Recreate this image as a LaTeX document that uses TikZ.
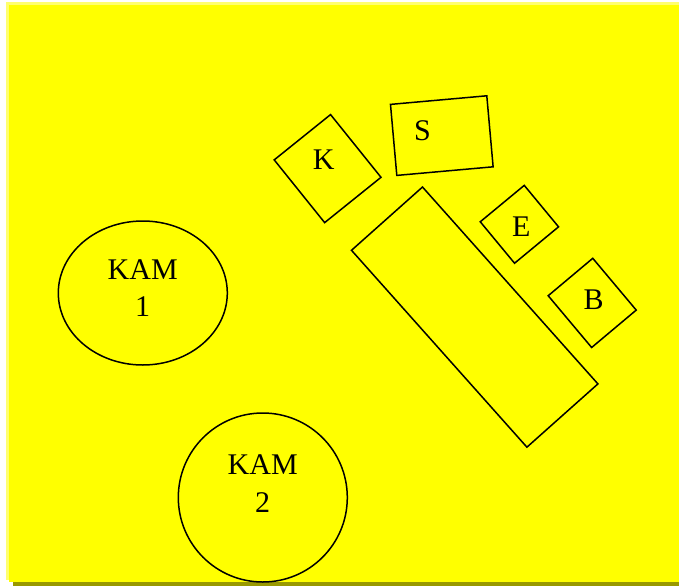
\documentclass[tikz,border=0pt]{standalone}
\usepackage{fontspec}
\setmainfont{Liberation Serif}
\usetikzlibrary{shapes.geometric}
\definecolor{floor}{RGB}{255,255,0}
\definecolor{floorlight}{RGB}{255,255,110}
\definecolor{floorshade}{RGB}{153,153,0}
\tikzset{
  furniture/.style={draw, line width=1.5pt, rectangle, inner sep=0pt, outer sep=0pt},
  cam/.style={draw, line width=1.5pt, ellipse, inner sep=0pt},
  tag/.style={font=\fontsize{30}{37.7}\selectfont, align=center, inner sep=0pt}
}

\begin{document}
\begin{tikzpicture}[x=1pt, y=-1pt]
\useasboundingbox (0,0) rectangle (679,586);
\fill[white] (0,0) rectangle (679,586);
\fill[floorshade] (13,582) rectangle (679,586);
\fill[floorlight] (6,2) rectangle (679,580);
\fill[floor] (9,5) rectangle (679,582);

\node[cam, minimum width=169pt, minimum height=144pt] (kam1) at (142.8,293) {};
\node[cam, minimum width=169pt, minimum height=169pt] (kam2) at (262.8,497.5) {};
\node[furniture, minimum width=72.3pt, minimum height=80.5pt, rotate=38.8] (k) at (327.6,168.6) {};
\node[furniture, minimum width=96.7pt, minimum height=71.3pt, rotate=5.1] (s) at (441.8,135.6) {};
\node[furniture, minimum width=57.1pt, minimum height=53.8pt, rotate=39.6] (e) at (519.4,224.3) {};
\node[furniture, minimum width=58.2pt, minimum height=67.6pt, rotate=40.0] (b) at (592.2,302.9) {};
\node[furniture, minimum width=95.1pt, minimum height=263.7pt, rotate=41.7] (table) at (474.7,317.1) {};

\node[tag] (kam1text) at (142.7,288) {KAM\\1};
\node[tag] (kam2text) at (262.7,483.3) {KAM\\2};
\node[tag] (ktext) at (323.8,159.7) {K};
\node[tag] (stext) at (422.5,130.5) {S};
\node[tag] (etext) at (521.2,227) {E};
\node[tag] (btext) at (593.5,299.5) {B};
\end{tikzpicture}
\end{document}
